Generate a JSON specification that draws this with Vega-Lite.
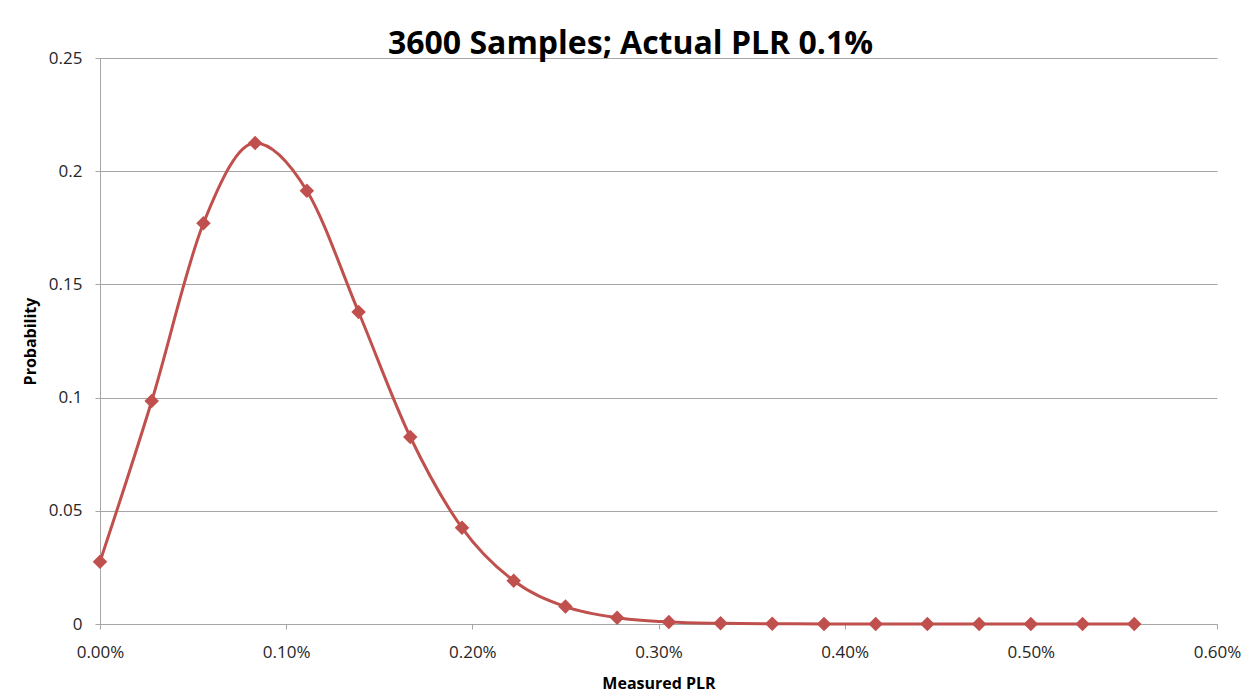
{
  "$schema": "https://vega.github.io/schema/vega-lite/v6.json",
  "width": 1117,
  "height": 566,
  "autosize": {"type": "none"},
  "padding": {"left": 100, "top": 58, "right": 38, "bottom": 72},
  "background": "white",
  "title": {
    "text": "3600 Samples; Actual PLR 0.1%",
    "font": "Open Sans",
    "fontSize": 32,
    "fontWeight": "bold",
    "color": "#000000",
    "anchor": "middle",
    "frame": "group",
    "dx": -28,
    "dy": 37,
    "offset": 0,
    "baseline": "alphabetic"
  },
  "data": {
    "values": [
      {"plr": 0.0, "p": 0.0275},
      {"plr": 0.0002778, "p": 0.0985},
      {"plr": 0.0005556, "p": 0.177},
      {"plr": 0.0008333, "p": 0.2125},
      {"plr": 0.0011111, "p": 0.1914},
      {"plr": 0.0013889, "p": 0.1378},
      {"plr": 0.0016667, "p": 0.0826},
      {"plr": 0.0019444, "p": 0.0425},
      {"plr": 0.0022222, "p": 0.0191},
      {"plr": 0.0025, "p": 0.0077},
      {"plr": 0.0027778, "p": 0.0028},
      {"plr": 0.0030556, "p": 0.0009},
      {"plr": 0.0033333, "p": 0.0003},
      {"plr": 0.0036111, "p": 0.0001},
      {"plr": 0.0038889, "p": 0.00003},
      {"plr": 0.0041667, "p": 0.00001},
      {"plr": 0.0044444, "p": 0.0},
      {"plr": 0.0047222, "p": 0.0},
      {"plr": 0.005, "p": 0.0},
      {"plr": 0.0052778, "p": 0.0},
      {"plr": 0.0055556, "p": 0.0}
    ]
  },
  "encoding": {
    "x": {
      "field": "plr",
      "type": "quantitative",
      "scale": {"domain": [0, 0.006], "nice": false, "zero": true},
      "axis": {
        "title": "Measured PLR",
        "format": ".2%",
        "values": [0, 0.001, 0.002, 0.003, 0.004, 0.005, 0.006],
        "grid": false,
        "labelFlush": false,
        "domainColor": "#A6A6A6",
        "tickColor": "#A6A6A6",
        "tickSize": 5,
        "labelFont": "Open Sans",
        "labelFontSize": 17,
        "labelColor": "#262626",
        "labelPadding": 15,
        "titleFont": "Open Sans",
        "titleFontSize": 16,
        "titleFontWeight": "bold",
        "titleColor": "#000000",
        "titlePadding": 15
      }
    },
    "y": {
      "field": "p",
      "type": "quantitative",
      "scale": {"domain": [0, 0.25], "nice": false},
      "axis": {
        "title": "Probability",
        "values": [0, 0.05, 0.1, 0.15, 0.2, 0.25],
        "format": "~g",
        "grid": true,
        "gridColor": "#A6A6A6",
        "gridWidth": 1,
        "domainColor": "#A6A6A6",
        "tickColor": "#A6A6A6",
        "tickSize": 5,
        "labelFont": "Open Sans",
        "labelFontSize": 17,
        "labelColor": "#262626",
        "labelPadding": 13,
        "titleFont": "Open Sans",
        "titleFontSize": 16,
        "titleFontWeight": "bold",
        "titleColor": "#000000",
        "titlePadding": 10
      }
    }
  },
  "layer": [
    {
      "mark": {"type": "line", "color": "#C0504D", "strokeWidth": 3, "interpolate": "monotone"}
    },
    {
      "mark": {"type": "point", "shape": "diamond", "filled": true, "color": "#C0504D", "opacity": 1, "size": 210}
    }
  ],
  "config": {
    "view": {"stroke": null}
  }
}
